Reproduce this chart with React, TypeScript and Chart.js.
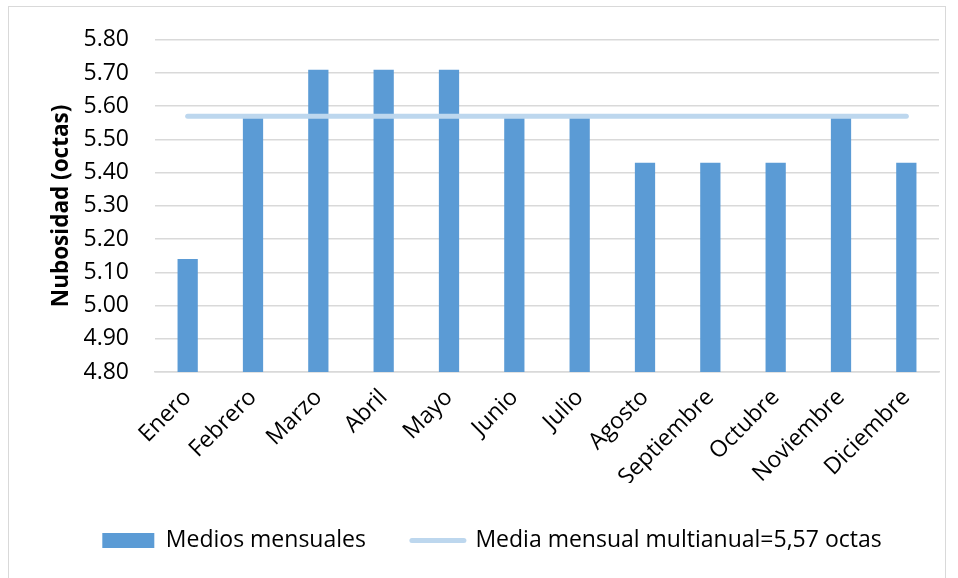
import React, { useEffect, useRef } from "react";
import { Chart, registerables } from "chart.js";

Chart.register(...registerables);

const MONTHS = ["Enero", "Febrero", "Marzo", "Abril", "Mayo", "Junio", "Julio", "Agosto", "Septiembre", "Octubre", "Noviembre", "Diciembre"];
const MONTHLY = [5.14, 5.57, 5.71, 5.71, 5.71, 5.57, 5.57, 5.43, 5.43, 5.43, 5.57, 5.43];
const MEAN = [5.57, 5.57, 5.57, 5.57, 5.57, 5.57, 5.57, 5.57, 5.57, 5.57, 5.57, 5.57];
const BAR_LABEL = "Medios mensuales";
const LINE_LABEL = "Media mensual multianual=5,57 octas";
const Y_TITLE = "Nubosidad (octas)";
const Y_MIN = 4.8;
const Y_MAX = 5.8;
const Y_STEP = 0.1;

const BAR_COLOR = "#5B9BD5";
const LINE_COLOR = "#BDD7EE";
const GRID = "#D9D9D9";
const FONT = "Open Sans";

export default function App() {
  const ref = useRef<HTMLCanvasElement | null>(null);

  useEffect(() => {
    if (!ref.current) return;
    const chart = new Chart(ref.current, {
      type: "bar",
      data: {
        labels: MONTHS,
        datasets: [
          {
            type: "bar",
            label: BAR_LABEL,
            data: MONTHLY,
            backgroundColor: BAR_COLOR,
            borderWidth: 0,
            barPercentage: 0.31,
            categoryPercentage: 1,
            order: 1,
          } as any,
          {
            type: "line",
            label: LINE_LABEL,
            data: MEAN,
            borderColor: LINE_COLOR,
            backgroundColor: LINE_COLOR,
            borderWidth: 5,
            borderCapStyle: "round",
            pointRadius: 0,
            fill: false,
            order: 0,
          } as any,
        ],
      },
      options: {
        animation: false,
        responsive: false,
        layout: { padding: { left: 45, right: 19, top: 35, bottom: 16 } },
        scales: {
          x: {
            grid: { display: false, drawTicks: false },
            border: { display: true, color: GRID, width: 1.5 },
            ticks: {
              color: "#000",
              font: { family: FONT, size: 23 },
              minRotation: 45,
              maxRotation: 45,
              padding: 12,
              autoSkip: false,
            },
            afterFit: (s: any) => {
              s.height = 111;
            },
          },
          y: {
            min: Y_MIN,
            max: Y_MAX,
            grid: { color: GRID, lineWidth: 1.5, drawTicks: false },
            border: { display: false },
            ticks: {
              stepSize: Y_STEP,
              color: "#000",
              font: { family: FONT, size: 23 },
              padding: 26,
              callback: (v: any) => Number(v).toFixed(2),
            },
            title: {
              display: true,
              text: Y_TITLE,
              color: "#000",
              font: { family: FONT, size: 22.5, weight: "bold" },
              padding: { top: 3, bottom: 0 },
            },
            afterFit: (s: any) => {
              s.width = 110;
            },
          },
        },
        plugins: {
          tooltip: { enabled: false },
          legend: {
            position: "bottom",
            labels: {
              color: "#000",
              font: { family: FONT, size: 23 },
              usePointStyle: true,
              pointStyleWidth: 52,
              boxHeight: 15,
              padding: 46,
              generateLabels: () => [
                {
                  text: BAR_LABEL,
                  fillStyle: BAR_COLOR,
                  strokeStyle: BAR_COLOR,
                  lineWidth: 0,
                  pointStyle: "rect",
                  datasetIndex: 0,
                  hidden: false,
                } as any,
                {
                  text: LINE_LABEL,
                  fillStyle: LINE_COLOR,
                  strokeStyle: LINE_COLOR,
                  lineWidth: 5,
                  lineCap: "round",
                  pointStyle: "line",
                  datasetIndex: 1,
                  hidden: false,
                } as any,
              ],
            },
          },
        },
      },
    });
    return () => chart.destroy();
  }, []);

  return (
    <div style={{ position: "absolute", left: 0, top: 0, width: 958, height: 578, background: "#fff" }}>
      <div
        style={{
          position: "absolute",
          left: 8,
          top: 6,
          width: 938,
          height: 590,
          border: "1.5px solid #D9D9D9",
          boxSizing: "border-box",
        }}
      />
      <canvas ref={ref} width={958} height={578} style={{ position: "absolute", left: 0, top: 0 }} />
    </div>
  );
}
